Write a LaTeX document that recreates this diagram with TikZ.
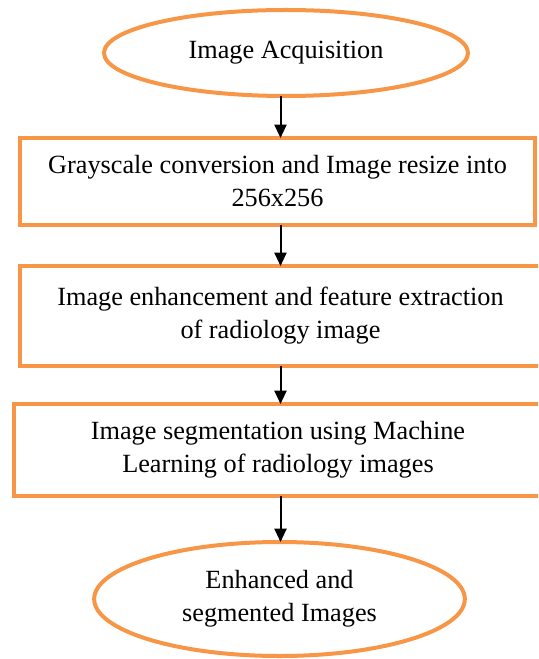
\documentclass[tikz,border=0pt]{standalone}
\usepackage{fontspec}
\setmainfont{Liberation Serif}
\usetikzlibrary{positioning,arrows.meta,shapes.geometric}
\definecolor{flowor}{RGB}{247,150,70}

\begin{document}
\begin{tikzpicture}[x=0.75pt,y=-0.75pt,
		txt/.style={font=\fontsize{19.7}{24.75}\selectfont, align=center, inner sep=0pt, outer sep=0pt},
		term/.style={txt, ellipse, draw=flowor, line width=3pt},
		proc/.style={txt, rectangle, draw=flowor, line width=3pt},
		arr/.style={line width=1.5pt, -{Triangle[width=9pt,length=10pt]}}]
	\clip (0,0) rectangle (538,659);

	% Start and end
	\node[term, minimum width=273pt, minimum height=64.5pt] (acq) at (286,53) {Image Acquisition};
	\node[term, minimum width=278pt, minimum height=85.5pt] (out) at (279.5,599) {Enhanced and\\segmented Images};

	% Steps
	\node[proc, minimum width=386.25pt, minimum height=65.25pt] (gray) at (277.5,181.5) {Grayscale conversion and Image resize into\\256x256};
	\node[proc, minimum width=390.75pt, minimum height=75pt] (enh) at (280.5,316) {Image enhancement and feature extraction\\of radiology image};
	\node[proc, minimum width=396pt, minimum height=69pt] (seg) at (278,450) {Image segmentation using Machine\\Learning of radiology images};

	% Arrows
	\draw[arr] (acq.south -| enh) -- (gray.north -| enh);
	\draw[arr] (gray.south -| enh) -- (enh.north);
	\draw[arr] (enh.south) -- (seg.north -| enh);
	\draw[arr] (seg.south -| enh) -- (out.north -| enh);
\end{tikzpicture}
\end{document}
